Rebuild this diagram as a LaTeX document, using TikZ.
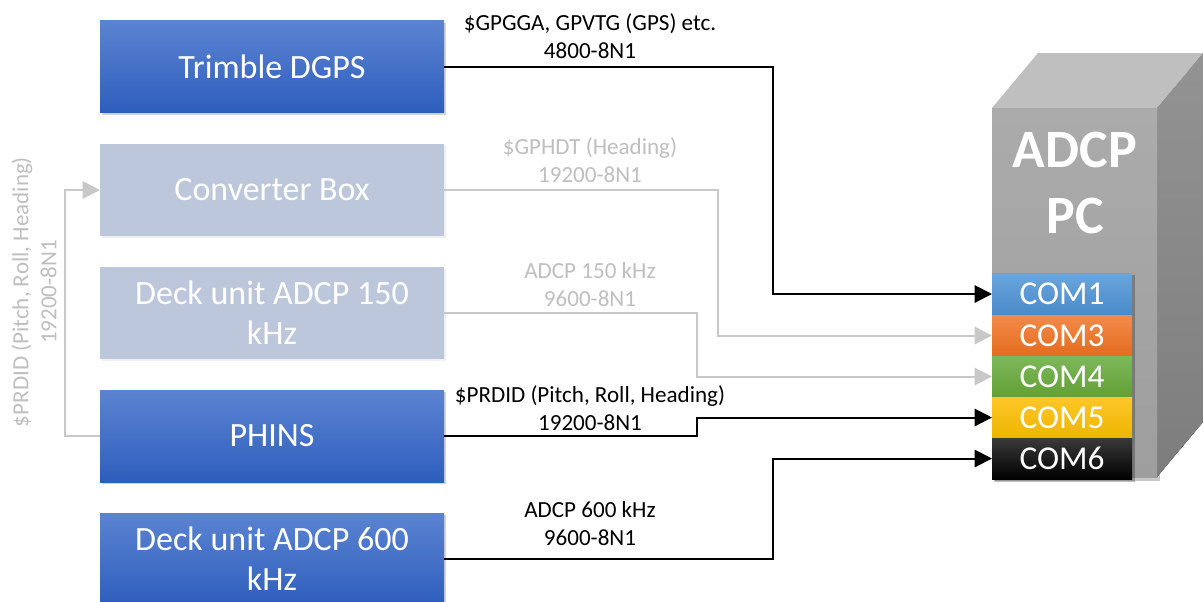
\documentclass[tikz,border=0pt]{standalone}
\usepackage{fontspec}
\setmainfont{Carlito}
\usetikzlibrary{arrows.meta,shadows,calc}
\definecolor{bluetop}{HTML}{5B83D1}
\definecolor{bluebot}{HTML}{2E5EBD}
\definecolor{fadebox}{HTML}{BDC7DB}
\definecolor{fadetext}{HTML}{BFBFBF}
\definecolor{fadeline}{HTML}{C8C8C8}
\definecolor{pctop}{HTML}{BFBFBF}
\definecolor{pcfronttop}{HTML}{ABABAB}
\definecolor{pcfrontbot}{HTML}{9E9E9E}
\definecolor{pcsidetop}{HTML}{939393}
\definecolor{pcsidebot}{HTML}{7D7D7D}
\definecolor{c1top}{HTML}{6AA5DC}
\definecolor{c1bot}{HTML}{4A8BCB}
\definecolor{c3top}{HTML}{F28A4A}
\definecolor{c3bot}{HTML}{E46C1E}
\definecolor{c4top}{HTML}{7DB85A}
\definecolor{c4bot}{HTML}{62A035}
\definecolor{c5top}{HTML}{FFC729}
\definecolor{c5bot}{HTML}{EDB500}
\definecolor{c6top}{HTML}{3A3A3A}
\definecolor{c6bot}{HTML}{000000}
\begin{document}
\begin{tikzpicture}[x=0.75pt,y=-0.75pt,
  every node/.style={inner sep=0pt, outer sep=0pt},
  devbox/.style={minimum width=258pt, minimum height=69pt, align=center,
    text=white, font=\fontsize{25.5}{30}\selectfont},
  livebox/.style={devbox, top color=bluetop, bottom color=bluebot,
    drop shadow={opacity=0.35, shadow xshift=1.2pt, shadow yshift=-1.5pt}},
  fadedbox/.style={devbox, fill=fadebox,
    drop shadow={opacity=0.12, shadow xshift=1.2pt, shadow yshift=-1.5pt}},
  comport/.style={minimum width=105pt, minimum height=30.75pt, text=white,
    font=\fontsize{25}{30}\selectfont},
  lbl/.style={align=center, font=\fontsize{17.3}{21}\selectfont},
  fadelbl/.style={lbl, text=fadetext},
  blk/.style={line width=1.5pt, black, -{Triangle[length=13pt,width=13pt]}},
  gry/.style={line width=1.5pt, fadeline, -{Triangle[length=13pt,width=13pt]}}
]
\clip (0,0) rectangle (1203,601);
\fill[white] (0,0) rectangle (1203,601);

% ADCP PC block
\fill[black, opacity=0.22] (995,111) rectangle (1160,481);
\fill[top color=pcsidetop, bottom color=pcsidebot] (1157,108) -- (1203,53) -- (1203,422) -- (1157,477) -- cycle;
\fill[pctop] (992,108) -- (1038,53) -- (1203,53) -- (1157,108) -- cycle;
\fill[top color=pcfronttop, bottom color=pcfrontbot] (992,108) rectangle (1157,477);
\node[text=white, align=center, font=\fontsize{40.5}{50}\bfseries\selectfont] (pc) at (1075,183) {ADCP\\PC};

% COM ports
\fill[black, opacity=0.25] (994,275) rectangle (1135,482);
\node[comport, top color=c1top, bottom color=c1bot] (com1) at (1062,294) {COM1};
\node[comport, top color=c3top, bottom color=c3bot] (com3) at (1062,335.5) {COM3};
\node[comport, top color=c4top, bottom color=c4bot] (com4) at (1062,376.5) {COM4};
\node[comport, top color=c5top, bottom color=c5bot] (com5) at (1062,417.5) {COM5};
\node[comport, top color=c6top, bottom color=c6bot] (com6) at (1062,458.5) {COM6};

% devices
\node[livebox] (dgps) at (272,66.5) {Trimble DGPS};
\node[fadedbox] (conv) at (272,190) {Converter Box};
\node[fadedbox] (deck150) at (272,313) {Deck unit ADCP 150\\kHz};
\node[livebox] (phins) at (272,436) {PHINS};
\node[livebox] (deck600) at (272,559) {Deck unit ADCP 600\\kHz};

% connectors
\draw[gry] (deck150.east) -- ++(253,0) |- (com4.west);
\draw[gry] (conv.east) -- ++(274,0) |- (com3.west);
\draw[gry] (phins.west) -- ++(-35,0) |- (conv.west);
\draw[blk] (dgps.east) -- ++(329,0) |- (com1.west);
\draw[blk] (phins.east) -- ++(253,0) |- (com5.west);
\draw[blk] (deck600.east) -- ++(329,0) |- (com6.west);

% labels
\node[lbl] (l1) at (590,36) {\$GPGGA, GPVTG (GPS) etc.\\4800-8N1};
\node[fadelbl] (l2) at (590,160.5) {\$GPHDT (Heading)\\19200-8N1};
\node[fadelbl] (l3) at (590,285) {ADCP 150 kHz\\9600-8N1};
\node[lbl] (l4) at (590,408) {\$PRDID (Pitch, Roll, Heading)\\19200-8N1};
\node[lbl] (l5) at (590,523.5) {ADCP 600 kHz\\9600-8N1};
\node[fadelbl, rotate=90] (l6) at (34,292) {\$PRDID (Pitch, Roll, Heading)\\19200-8N1};
\end{tikzpicture}
\end{document}
